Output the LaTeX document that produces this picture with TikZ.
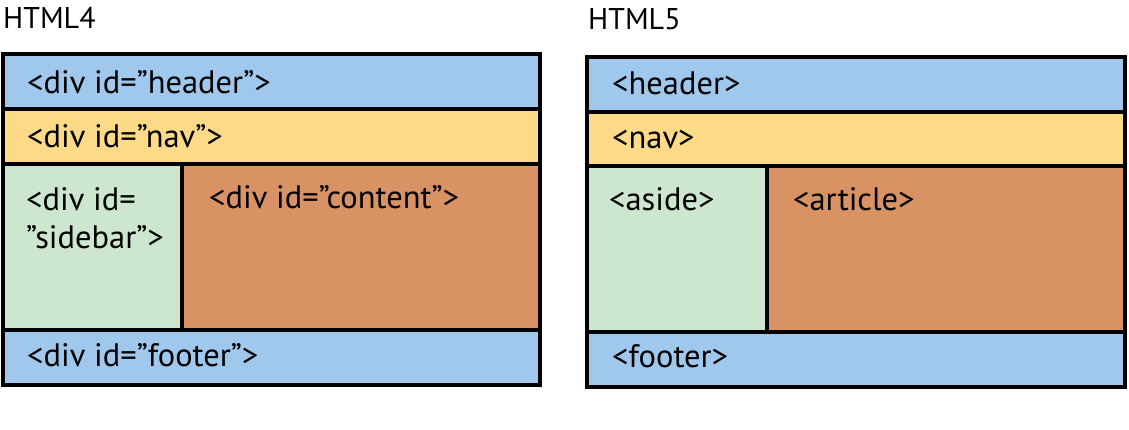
\documentclass[tikz,border=0pt]{standalone}
\usepackage{fontspec}
\setmainfont{PT Sans}
\definecolor{hblue}{HTML}{A0C8EC}
\definecolor{hyellow}{HTML}{FDDA88}
\definecolor{hgreen}{HTML}{CDE6CF}
\definecolor{horange}{HTML}{D89264}
\begin{document}
\begin{tikzpicture}[x=1pt,y=-1pt,
  lbl/.style={anchor=base west,inner sep=0pt,font=\fontsize{32.5}{36}\selectfont},
  ttl/.style={anchor=base west,inner sep=0pt,font=\fontsize{30}{36}\selectfont},
  frame/.style={draw=black,line width=3.6pt}]
\useasboundingbox (0,0) rectangle (1129,429);
% HTML4
\fill[hblue] (3,54) rectangle (540,109);
\fill[hyellow] (3,109) rectangle (540,164);
\fill[hgreen] (3,164) rectangle (182,330);
\fill[horange] (182,164) rectangle (540,330);
\fill[hblue] (3,330) rectangle (540,385);
\draw[frame] (3,54) rectangle (540,385);
\draw[frame] (3,109) -- (540,109);
\draw[frame] (3,164) -- (540,164);
\draw[frame] (3,330) -- (540,330);
\draw[frame] (182,164) -- (182,330);
% HTML5
\fill[hblue] (587,57) rectangle (1125,112);
\fill[hyellow] (587,112) rectangle (1125,166);
\fill[hgreen] (587,166) rectangle (767,332);
\fill[horange] (767,166) rectangle (1125,332);
\fill[hblue] (587,332) rectangle (1125,387);
\draw[frame] (587,57) rectangle (1125,387);
\draw[frame] (587,112) -- (1125,112);
\draw[frame] (587,166) -- (1125,166);
\draw[frame] (587,332) -- (1125,332);
\draw[frame] (767,166) -- (767,332);
% titles
\node[ttl] (t4) at (3,28) {HTML4};
\node[ttl] (t5) at (588,29) {HTML5};
% left labels
\node[lbl] (h4) at (27,93) {<div id=”header”>};
\node[lbl] (n4) at (27,147) {<div id=”nav”>};
\node[lbl] (s4a) at (26,210) {<div id=};
\node[lbl] (s4b) at (26,248) {”sidebar”>};
\node[lbl] (c4) at (209,208) {<div id=”content”>};
\node[lbl] (f4) at (27,366) {<div id=”footer”>};
% right labels
\node[lbl] (h5) at (612,94) {<header>};
\node[lbl] (n5) at (612,148) {<nav>};
\node[lbl] (a5) at (609,210) {<aside>};
\node[lbl] (r5) at (793,210) {<article>};
\node[lbl] (f5) at (612,367) {<footer>};
\end{tikzpicture}
\end{document}
